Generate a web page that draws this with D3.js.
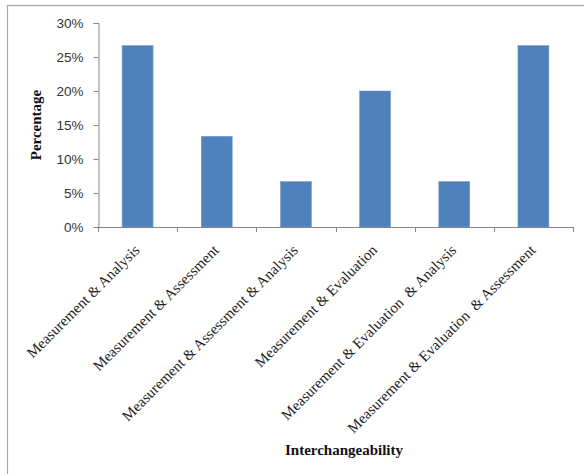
<!DOCTYPE html>
<html><head><meta charset="utf-8">
<script src="https://cdn.jsdelivr.net/npm/d3@7"></script>
<style>body{margin:0;background:#fff}svg{display:block}</style>
</head><body>
<svg id="c" width="584" height="474"></svg>
<script>
const categories = [
  "Measurement & Analysis",
  "Measurement & Assessment",
  "Measurement & Assessment & Analysis",
  "Measurement & Evaluation",
  "Measurement & Evaluation  & Analysis",
  "Measurement & Evaluation  & Assessment"
];
const values = [26.67, 13.33, 6.67, 20.0, 6.67, 26.67];
const yTicks = [0, 5, 10, 15, 20, 25, 30];
const yTitle = "Percentage";
const xTitle = "Interchangeability";

const svg = d3.select("#c");
// outer chart border (extends beyond window right/bottom)
svg.append("rect").attr("x",7.5).attr("y",5.5).attr("width",620).attr("height",520)
  .attr("fill","none").attr("stroke","#a6a6a6").attr("stroke-width",1.2);

const x = d3.scaleBand().domain(categories).range([98, 573]).paddingInner(0.61).paddingOuter(0.305);
const y = d3.scaleLinear().domain([0, 30]).range([227, 23]);
const axisColor = "#868686";

// bars
svg.append("g").selectAll("rect").data(values).join("rect")
  .attr("x",(d,i)=>x(categories[i]))
  .attr("y",d=>y(d))
  .attr("width",x.bandwidth())
  .attr("height",d=>y(0)-y(d))
  .attr("fill","#4f81bd").attr("stroke","#6f99cc").attr("stroke-width",0.6);

// y axis
const yAxis = svg.append("g").attr("transform","translate(98.5,0)")
  .call(d3.axisLeft(y).tickValues(yTicks).tickSize(5).tickFormat(d=>d+"%"));
yAxis.select(".domain").attr("stroke",axisColor);
yAxis.selectAll(".tick line").attr("stroke",axisColor);
yAxis.selectAll(".tick text").attr("x",-15).attr("fill","#333")
  .style("font-family","'Liberation Sans', Arial, sans-serif").style("font-size","13.5px");

// x axis: line + boundary ticks
const step = x.step();
const xb = d3.range(categories.length+1).map(i=> 98 + i*step);
svg.append("line").attr("x1",98).attr("x2",573).attr("y1",227.5).attr("y2",227.5).attr("stroke",axisColor);
svg.append("g").selectAll("line").data(xb).join("line")
  .attr("x1",d=>Math.round(d)+0.5).attr("x2",d=>Math.round(d)+0.5)
  .attr("y1",227).attr("y2",232).attr("stroke",axisColor);

// x labels
svg.append("g").selectAll("text").data(categories).join("text")
  .attr("transform",d=>`translate(${x(d)+x.bandwidth()/2+3},251) rotate(-45)`)
  .attr("text-anchor","end")
  .style("font-family","'Liberation Serif','Times New Roman',serif").style("font-size","15px")
  .attr("fill","#222")
  .style("white-space","pre")
  .text(d=>d);

// titles
svg.append("text").attr("transform","translate(41,125) rotate(-90)").attr("text-anchor","middle")
  .style("font-family","'Liberation Serif','Times New Roman',serif").style("font-size","15px").style("font-weight","bold")
  .attr("fill","#111").text(yTitle);
svg.append("text").attr("x",344).attr("y",455).attr("text-anchor","middle")
  .style("font-family","'Liberation Serif','Times New Roman',serif").style("font-size","15px").style("font-weight","bold")
  .attr("fill","#111").text(xTitle);
</script>
</body></html>
